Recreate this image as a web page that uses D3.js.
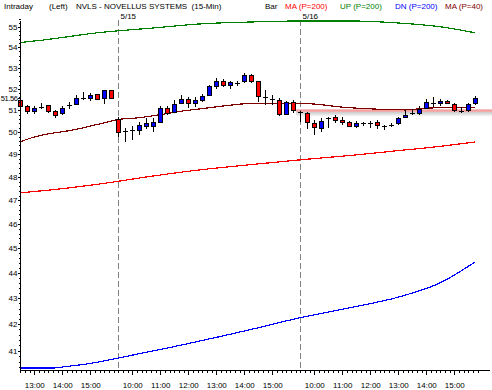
<!DOCTYPE html>
<html>
<head>
<meta charset="utf-8">
<script src="https://cdn.jsdelivr.net/npm/d3@7"></script>
<style>
  body { margin: 0; background: #fff; }
  svg text { font-family: "Liberation Sans", Arial, sans-serif; font-size: 8px; fill: #000; }
</style>
</head>
<body>
<div id="chart"></div>
<script>
// sessions: first bar index of each day (day 1 starts at the 12:30 bar)
const sessionDates = ["5/14", "5/15", "5/16"];
const sessionFirstBar = [0, 14, 40];
const sessionFirstTime = ["12:30", "09:30", "09:30"];
const barCount = 66;

// 15-min bars
const open  = [51.49,51.22,50.99,51.17,51.24,50.99,50.87,51.25,51.31,51.56,51.56,51.75,51.56,51.93,
               50.61,50.07,50.10,50.10,50.30,50.30,50.48,51.10,50.94,51.36,51.52,51.33,51.46,51.70,52.16,52.36,
               52.19,52.28,52.37,52.67,52.36,51.64,51.53,51.49,50.84,51.41,
               50.92,50.87,50.43,50.19,50.67,50.69,50.56,50.45,50.28,50.43,50.43,50.45,50.30,50.33,50.41,50.69,
               50.87,50.87,51.13,51.36,51.33,51.44,51.30,50.99,51.02,51.33];
const high  = [51.55,51.25,51.20,51.33,51.26,51.00,51.22,51.38,51.70,51.85,51.80,51.78,51.95,51.95,
               50.71,50.17,50.30,50.48,50.64,50.64,51.20,51.18,51.48,51.72,51.61,51.61,51.75,52.18,52.51,52.47,
               52.36,52.37,52.74,52.72,52.38,51.95,51.72,51.56,51.45,51.49,
               50.99,50.94,50.56,50.64,50.69,50.79,50.71,50.53,50.50,50.48,50.53,50.56,50.33,50.41,50.71,51.02,
               51.06,51.18,51.52,51.61,51.52,51.49,51.36,51.15,51.36,51.67];
const low   = [51.20,50.82,50.83,51.05,50.87,50.67,50.79,51.08,51.23,51.47,51.45,51.52,51.31,51.52,
               49.77,49.57,49.65,49.88,50.15,50.03,50.41,50.79,50.87,51.31,51.10,51.15,51.40,51.67,52.02,52.10,
               51.99,52.12,52.28,52.30,51.41,51.25,51.25,50.76,50.84,50.87,
               50.45,50.13,49.88,50.03,50.19,50.41,50.33,50.25,50.20,50.30,50.19,50.15,50.10,50.25,50.33,50.64,
               50.79,50.79,51.06,51.15,51.18,51.28,50.92,50.87,50.92,51.25];
const close = [51.22,50.99,51.10,51.17,50.99,50.79,51.10,51.25,51.56,51.56,51.70,51.54,51.93,51.56,
               50.02,50.07,50.10,50.33,50.41,50.48,51.10,50.90,51.30,51.53,51.33,51.49,51.68,52.15,52.39,52.19,
               52.33,52.28,52.67,52.37,51.67,51.64,51.53,50.84,51.38,51.02,
               50.92,50.45,50.22,50.53,50.67,50.56,50.45,50.28,50.43,50.43,50.43,50.33,50.30,50.33,50.64,50.79,
               50.87,51.06,51.38,51.36,51.44,51.33,51.02,50.99,51.30,51.56];

// indicator lines, [bar index, value] read at points along each curve
const ma200 = [[0,47.32],[6,47.50],[12,47.73],[19,48.05],[26,48.33],[33,48.55],[40,48.76],[47,48.95],[54,49.17],[60,49.36],[65,49.56]];
const up200 = [[0,54.24],[3,54.35],[11,54.72],[19,54.96],[26,55.17],[33,55.26],[40,55.31],[47,55.31],[54,55.21],[60,55.02],[65,54.72]];
const dn200 = [[0,40.36],[4.5,40.36],[6.6,40.42],[9.5,40.51],[14,40.73],[17,40.89],[21,41.10],[24.7,41.31],[28.5,41.53],[32.8,41.79],[40,42.25],[47,42.63],[54.2,43.06],[60,43.61],[65,44.45]];
const ma40  = [[0,49.57],[2,49.78],[4,49.92],[7,50.07],[9,50.20],[12,50.43],[14,50.58],[17,50.66],[20,50.80],[23,50.96],[27,51.12],[30,51.24],[33,51.32],[37,51.30],[40,51.33],[43,51.26],[46,51.15],[50,51.07],[55,51.02],[58,51.10],[61,51.13],[65,51.13]];

const yTicks = [41,42,43,44,45,46,47,48,49,50,51,52,53,54,55];
const lastPrice = 51.56;
const bandLevel = 51.0, bandFromBar = 39.4;

const width = 492, height = 390;
const svg = d3.select("#chart").append("svg")
    .attr("width", width).attr("height", height);

var x = d3.scaleLinear().domain([0, 67]).range([20.3, 489.3]);
var y = d3.scaleLog().domain([40.29, 55.41]).range([370, 19]);

// time of each bar
function toMin(s) { var p = s.split(":"); return +p[0] * 60 + +p[1]; }
var barTime = [];
sessionFirstBar.forEach(function (b0, s) {
    var end = s + 1 < sessionFirstBar.length ? sessionFirstBar[s + 1] : barCount;
    for (var i = b0; i < end; i++) barTime.push(toMin(sessionFirstTime[s]) + (i - b0) * 15);
});

// highlighted level band (with a soft shadow)
var defs = svg.append("defs");
var grad = defs.append("linearGradient").attr("id", "shade").attr("x1", 0).attr("y1", 0).attr("x2", 0).attr("y2", 1);
grad.append("stop").attr("offset", "0%").attr("stop-color", "#c8c8c8");
grad.append("stop").attr("offset", "100%").attr("stop-color", "#ffffff");
svg.append("rect")
    .attr("x", x(bandFromBar)).attr("y", y(bandLevel) + 1.5)
    .attr("width", width - x(bandFromBar)).attr("height", 5)
    .attr("fill", "url(#shade)");
svg.append("rect")
    .attr("x", x(bandFromBar)).attr("y", y(bandLevel) - 1)
    .attr("width", width - x(bandFromBar)).attr("height", 2.5)
    .attr("fill", "#f2a0a0");

// session dividers
sessionFirstBar.slice(1).forEach(function (b, k) {
    var xx = Math.round(x(b)) + 0.5;
    svg.append("line")
        .attr("x1", xx).attr("x2", xx).attr("y1", 20).attr("y2", 370)
        .attr("stroke", "#808080").attr("stroke-dasharray", "6,3");
    svg.append("text").attr("x", xx + 2).attr("y", 18.5).text(sessionDates[k + 1]);
});

// indicator lines
var line = d3.line()
    .x(function (d) { return x(d[0]); })
    .y(function (d) { return y(d[1]); })
    .curve(d3.curveMonotoneX);

[[ma200, "#ff0000"], [up200, "#008000"], [dn200, "#0000ff"], [ma40, "#800000"]].forEach(function (s) {
    svg.append("path")
        .attr("d", line(s[0]))
        .attr("fill", "none")
        .attr("stroke", s[1])
        .attr("stroke-width", 1.2)
        .attr("shape-rendering", "crispEdges");
});

// candles
var bars = d3.range(barCount).map(function (i) {
    return { i: i, o: open[i], h: high[i], l: low[i], c: close[i] };
});
var g = svg.append("g").attr("shape-rendering", "crispEdges");
var candle = g.selectAll(".candle").data(bars).enter().append("g").attr("class", "candle");

candle.append("line")
    .attr("x1", function (d) { return Math.round(x(d.i)) + 0.5; })
    .attr("x2", function (d) { return Math.round(x(d.i)) + 0.5; })
    .attr("y1", function (d) { return y(d.h); })
    .attr("y2", function (d) { return y(d.l); })
    .attr("stroke", "#000");

candle.filter(function (d) { return d.o === d.c; }).append("line")
    .attr("x1", function (d) { return Math.round(x(d.i)) - 2; })
    .attr("x2", function (d) { return Math.round(x(d.i)) + 3; })
    .attr("y1", function (d) { return Math.round(y(d.o)) + 0.5; })
    .attr("y2", function (d) { return Math.round(y(d.o)) + 0.5; })
    .attr("stroke", "#000");

candle.filter(function (d) { return d.o !== d.c; }).append("rect")
    .attr("x", function (d) { return Math.round(x(d.i)) - 2 + 0.5; })
    .attr("width", 4)
    .attr("y", function (d) { return Math.round(y(Math.max(d.o, d.c))) + 0.5; })
    .attr("height", function (d) { return Math.max(1, Math.round(y(Math.min(d.o, d.c))) - Math.round(y(Math.max(d.o, d.c)))); })
    .attr("fill", function (d) { return d.c > d.o ? "#0000ff" : "#ff0000"; })
    .attr("stroke", "#000");

// y axis
var minorY = d3.range(40.4, 55.41, 0.2).filter(function (v) { return Math.abs(v - Math.round(v)) > 0.05; });
svg.append("g")
    .attr("transform", "translate(20.5,0)")
    .attr("shape-rendering", "crispEdges")
    .call(d3.axisLeft(y).tickValues(minorY).tickSize(1.5).tickSizeOuter(0).tickFormat(""))
    .call(function (a) { a.select(".domain").remove(); });
var yAxis = svg.append("g")
    .attr("transform", "translate(20.5,0)")
    .attr("shape-rendering", "crispEdges")
    .call(d3.axisLeft(y).tickValues(yTicks.concat([lastPrice])).tickSize(3).tickSizeOuter(0).tickPadding(0)
        .tickFormat(function (d) { return d === lastPrice ? d.toFixed(2) : d; }));
yAxis.select(".domain").attr("d", "M0," + 21 + "V370");
yAxis.selectAll("text").style("font-family", "Liberation Sans, Arial, sans-serif").style("font-size", "8px");
yAxis.selectAll("text").filter(function (d) { return d === lastPrice; })
    .style("font-size", "7.5px").style("letter-spacing", "-0.4px");

// x axis: ticks every 10 minutes, labels on the hours
var minorX = [], hourX = [];
sessionFirstBar.forEach(function (b0, s) {
    var t0 = toMin(sessionFirstTime[s]);
    for (var t = t0; t < 16 * 60; t += 10) {
        var idx = b0 + (t - t0) / 15;
        if (idx > 67) break;
        if (t % 60 === 0) hourX.push(idx); else minorX.push(idx);
    }
});
function labelFor(idx) {
    var b = Math.round(idx), t = barTime[b];
    return d3.format("02")(Math.floor(t / 60)) + ":" + d3.format("02")(t % 60);
}
svg.append("g")
    .attr("transform", "translate(0,370.5)")
    .attr("shape-rendering", "crispEdges")
    .call(d3.axisBottom(x).tickValues(minorX).tickSize(2.5).tickSizeOuter(0).tickFormat(""))
    .call(function (a) { a.select(".domain").attr("d", "M20,0H490"); });
var xAxis = svg.append("g")
    .attr("transform", "translate(0,370.5)")
    .attr("shape-rendering", "crispEdges")
    .call(d3.axisBottom(x).tickValues(hourX.filter(function (v) { return v >= 0 && v < barCount; }))
        .tickSize(4).tickSizeOuter(0).tickPadding(8).tickFormat(labelFor));
xAxis.select(".domain").remove();
xAxis.selectAll("text").style("font-family", "Liberation Sans, Arial, sans-serif").style("font-size", "8px");

// header
var header = [
    ["Intraday", 4, "#000"], ["(Left)", 49, "#000"], ["NVLS - NOVELLUS SYSTEMS  (15-Min)", 76, "#000"],
    ["Bar", 265, "#000"], ["MA (P=200)", 285, "#ff0000"], ["UP (P=200)", 340, "#008000"],
    ["DN (P=200)", 395, "#0000ff"], ["MA (P=40)", 445, "#800000"]
];
svg.selectAll(".hdr").data(header).enter().append("text")
    .attr("class", "hdr")
    .attr("x", function (d) { return d[1]; })
    .attr("y", 8.5)
    .attr("xml:space", "preserve")
    .style("white-space", "pre")
    .style("fill", function (d) { return d[2]; })
    .text(function (d) { return d[0]; });
</script>
</body>
</html>
